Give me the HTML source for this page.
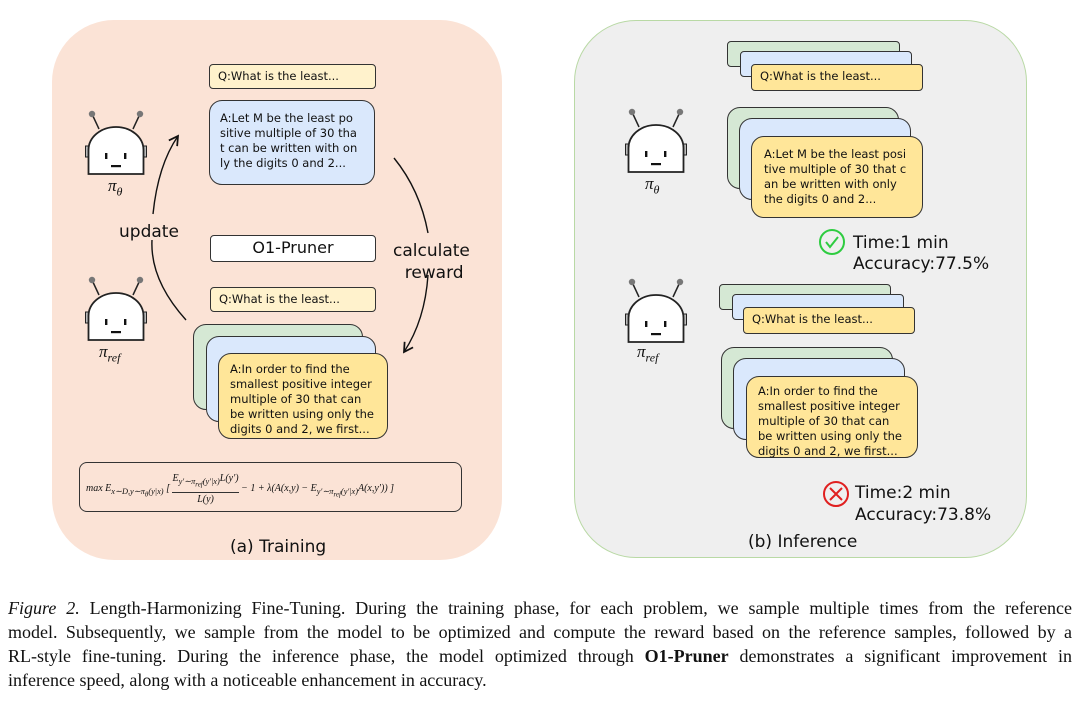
<!DOCTYPE html>
<html><head><meta charset="utf-8"><style>
body{margin:0;width:1080px;height:701px;background:#fff;position:relative;overflow:hidden;font-family:"DejaVu Sans","Liberation Sans",sans-serif;}
.a{position:absolute;box-sizing:border-box;}
.bx{position:absolute;box-sizing:border-box;border:1.5px solid #333;font-size:11.5px;color:#111;line-height:15px;}
.q{background:#fff2cc;border-radius:4px;padding:4px 8px;height:25px;}
.y{background:#ffe699;}
.b{background:#dae8fc;}
.g{background:#d5e8d4;}
.t{position:absolute;color:#111;white-space:nowrap;}
.pi{font-family:"Liberation Serif",serif;font-style:italic;font-size:17px;}
.cap{position:absolute;left:8px;width:1064px;font-family:"Liberation Serif",serif;font-size:18px;line-height:24px;color:#111;}
.cap div{text-align:justify;text-align-last:justify;white-space:nowrap;}
.cap div.l{text-align-last:left;}
</style></head><body>
<div class="a" style="left:52px;top:20px;width:450px;height:540px;background:#fbe3d6;border-radius:62px;"></div>
<div class="a" style="left:574px;top:20px;width:453px;height:538px;background:#efefef;border:1.5px solid #b9d9a5;border-radius:62px;"></div>

<svg class="a" style="left:0;top:0" width="1080" height="701">
<defs>
<g id="rb">
<line x1="8" y1="4" x2="15" y2="19" stroke="#222" stroke-width="1.5"/>
<line x1="56" y1="4" x2="49" y2="19" stroke="#222" stroke-width="1.5"/>
<circle cx="8" cy="4" r="3.2" fill="#777"/><circle cx="56" cy="4" r="3.2" fill="#777"/>
<rect x="1.5" y="36" width="3" height="11" fill="#bbb" stroke="#222" stroke-width="1"/>
<rect x="59.5" y="36" width="3" height="11" fill="#bbb" stroke="#222" stroke-width="1"/>
<path d="M4.5 64 V40 A27.5 23 0 0 1 59.5 40 V64 Z" fill="#fff" stroke="#222" stroke-width="1.8"/>
<rect x="21" y="43" width="2.4" height="6" fill="#111"/><rect x="40" y="43" width="2.4" height="6" fill="#111"/>
<rect x="27" y="55" width="10" height="2.2" fill="#111"/>
</g>
<marker id="ah" viewBox="0 0 10 10" refX="8" refY="5" markerWidth="9" markerHeight="9" orient="auto"><path d="M1 1 L8 5 L1 9" fill="none" stroke="#111" stroke-width="1.4"/></marker>
</defs>
<use href="#rb" x="84" y="110"/>
<use href="#rb" x="84" y="276"/>
<use href="#rb" x="624" y="108"/>
<use href="#rb" x="624" y="278"/>
<path d="M186 320 Q150 280 152 240 M153 214 Q158 165 178 136" fill="none" stroke="#111" stroke-width="1.4" marker-end="url(#ah)"/>
<path d="M394 158 Q420 190 428 233 M428 275 Q425 320 404 352" fill="none" stroke="#111" stroke-width="1.4" marker-end="url(#ah)"/>
<circle cx="832" cy="242" r="12" fill="none" stroke="#2ecc40" stroke-width="2"/>
<path d="M826 242 L830 247 L838 237" fill="none" stroke="#2ecc40" stroke-width="2"/>
<circle cx="836" cy="494" r="12" fill="none" stroke="#e02020" stroke-width="2"/>
<path d="M830 488 L842 500 M842 488 L830 500" stroke="#e02020" stroke-width="2"/>
</svg>

<div class="t pi" style="left:108px;top:176px;">π<sub style="font-size:12px">θ</sub></div>
<div class="t pi" style="left:99px;top:342px;">π<sub style="font-size:12px">ref</sub></div>
<div class="t pi" style="left:645px;top:174px;">π<sub style="font-size:12px">θ</sub></div>
<div class="t pi" style="left:637px;top:342px;">π<sub style="font-size:12px">ref</sub></div>

<div class="t" style="left:119px;top:222px;font-size:17px;">update</div>
<div class="t" style="left:393px;top:240px;font-size:17px;text-align:center;line-height:22px;">calculate<br>&nbsp;reward</div>

<div class="bx q" style="left:209px;top:64px;width:167px;">Q:What is the least...</div>
<div class="bx b" style="left:209px;top:100px;width:166px;height:85px;border-radius:13px;padding:10px 10px;">A:Let M be the least po sitive multiple of 30 tha t can be written with on ly the digits 0 and 2...</div>
<div class="bx" style="left:210px;top:235px;width:166px;height:27px;background:#fff;border-radius:4px;text-align:center;font-size:16px;line-height:24px;">O1-Pruner</div>
<div class="bx q" style="left:210px;top:287px;width:166px;">Q:What is the least...</div>
<div class="bx g" style="left:193px;top:324px;width:170px;height:86px;border-radius:13px;"></div>
<div class="bx b" style="left:206px;top:336px;width:170px;height:86px;border-radius:13px;"></div>
<div class="bx y" style="left:218px;top:353px;width:170px;height:86px;border-radius:13px;padding:8px 11px;">A:In order to find the smallest positive integer multiple of 30 that can be written using only the digits 0 and 2, we first...</div>
<div class="bx" style="left:79px;top:462px;width:383px;height:50px;border-radius:8px;font-family:'Liberation Serif',serif;font-size:10px;padding:9px 6px;white-space:nowrap;font-style:italic;line-height:14px;">max E<sub>x∼D,y∼π<sub>θ</sub>(y|x)</sub> [ <span style="display:inline-block;text-align:center;vertical-align:middle;line-height:13px;"><span style="border-bottom:1px solid #333;display:block">E<sub>y′∼π<sub>ref</sub>(y′|x)</sub>L(y′)</span>L(y)</span> − 1 + λ(A(x,y) − E<sub>y′∼π<sub>ref</sub>(y′|x)</sub>A(x,y′)) ]</div>
<div class="t" style="left:230px;top:537px;font-size:17px;">(a) Training</div>

<div class="bx g" style="left:727px;top:41px;width:173px;height:26px;border-radius:4px;"></div>
<div class="bx b" style="left:740px;top:51px;width:172px;height:26px;border-radius:4px;"></div>
<div class="bx q y" style="left:751px;top:64px;width:172px;height:27px;">Q:What is the least...</div>
<div class="bx g" style="left:727px;top:107px;width:172px;height:82px;border-radius:13px;"></div>
<div class="bx b" style="left:739px;top:118px;width:172px;height:82px;border-radius:13px;"></div>
<div class="bx y" style="left:751px;top:136px;width:172px;height:82px;border-radius:13px;padding:10px 12px;">A:Let M be the least posi tive multiple of 30 that c an be written with only the digits 0 and 2...</div>
<div class="t" style="left:853px;top:233px;font-size:17px;line-height:21px;">Time:1 min<br>Accuracy:77.5%</div>

<div class="bx g" style="left:719px;top:284px;width:172px;height:26px;border-radius:4px;"></div>
<div class="bx b" style="left:732px;top:294px;width:172px;height:26px;border-radius:4px;"></div>
<div class="bx q y" style="left:743px;top:307px;width:172px;height:27px;">Q:What is the least...</div>
<div class="bx g" style="left:721px;top:347px;width:172px;height:82px;border-radius:13px;"></div>
<div class="bx b" style="left:733px;top:358px;width:172px;height:82px;border-radius:13px;"></div>
<div class="bx y" style="left:746px;top:376px;width:172px;height:82px;border-radius:13px;padding:7px 11px;">A:In order to find the smallest positive integer multiple of 30 that can be written using only the digits 0 and 2, we first...</div>
<div class="t" style="left:855px;top:482px;font-size:17px;line-height:22px;">Time:2 min<br>Accuracy:73.8%</div>
<div class="t" style="left:748px;top:532px;font-size:17px;">(b) Inference</div>

<div class="cap" style="top:596px;">
<div><i>Figure 2.</i> Length-Harmonizing Fine-Tuning. During the training phase, for each problem, we sample multiple times from the reference</div>
<div>model. Subsequently, we sample from the model to be optimized and compute the reward based on the reference samples, followed by a</div>
<div>RL-style fine-tuning. During the inference phase, the model optimized through <b>O1-Pruner</b> demonstrates a significant improvement in</div>
<div class="l">inference speed, along with a noticeable enhancement in accuracy.</div>
</div>
</body></html>
